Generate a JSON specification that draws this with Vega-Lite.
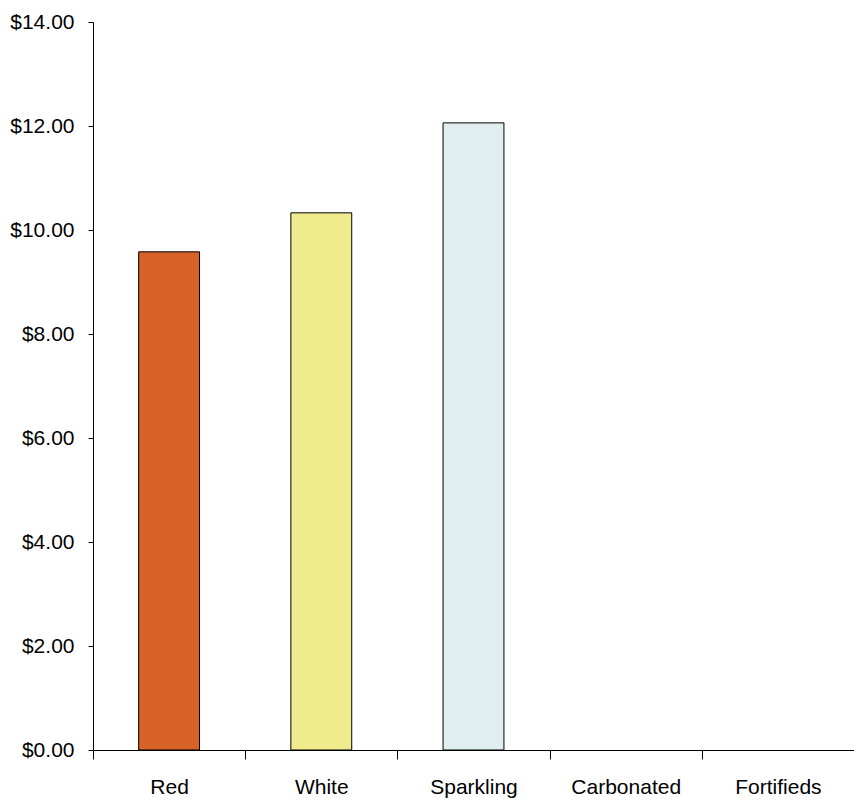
{
  "$schema": "https://vega.github.io/schema/vega-lite/v6.json",
  "autosize": "none",
  "padding": {"left": 93, "top": 22, "right": 0, "bottom": 53},
  "width": 761,
  "height": 728,
  "background": "white",
  "config": {"view": {"stroke": null}},
  "data": {
    "values": [
      {"type": "Red", "price": 9.58},
      {"type": "White", "price": 10.33},
      {"type": "Sparkling", "price": 12.06},
      {"type": "Carbonated", "price": 0},
      {"type": "Fortifieds", "price": 0}
    ]
  },
  "transform": [{"filter": "datum.price > 0"}],
  "mark": {"type": "bar", "width": {"band": 0.4}, "stroke": "black", "strokeWidth": 1},
  "encoding": {
    "x": {
      "field": "type",
      "type": "nominal",
      "sort": null,
      "scale": {"domain": ["Red", "White", "Sparkling", "Carbonated", "Fortifieds"], "paddingInner": 0, "paddingOuter": 0},
      "axis": {
        "title": null,
        "labelAngle": 0,
        "tickBand": "extent",
        "tickSize": 9,
        "tickColor": "black",
        "domainColor": "black",
        "labelFont": "Liberation Sans",
        "labelFontSize": 21,
        "labelColor": "black",
        "labelPadding": 17
      }
    },
    "y": {
      "field": "price",
      "type": "quantitative",
      "scale": {"domain": [0, 14], "nice": false},
      "axis": {
        "title": null,
        "grid": false,
        "values": [0, 2, 4, 6, 8, 10, 12, 14],
        "format": "$,.2f",
        "tickSize": 5,
        "tickColor": "black",
        "domainColor": "black",
        "labelFont": "Liberation Sans",
        "labelFontSize": 21,
        "labelColor": "black",
        "labelPadding": 14
      }
    },
    "color": {
      "field": "type",
      "type": "nominal",
      "legend": null,
      "scale": {
        "domain": ["Red", "White", "Sparkling", "Carbonated", "Fortifieds"],
        "range": ["#D66228", "#F0EB8C", "#E0EEEF", "#FFFFFF", "#FFFFFF"]
      }
    }
  }
}
